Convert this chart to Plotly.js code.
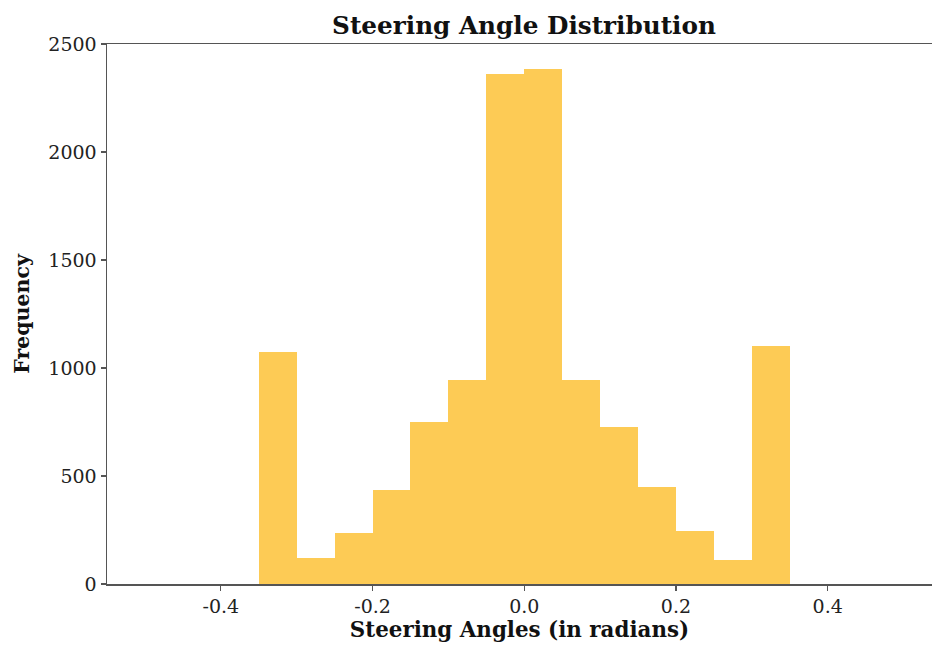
<!DOCTYPE html>
<html>
<head>
<meta charset="utf-8">
<script src="https://cdn.plot.ly/plotly-3.0.1.min.js"></script>
<style>html,body{margin:0;padding:0;background:#fff;overflow:hidden}#chart{width:932px;height:646px}</style>
</head>
<body>
<div id="chart"></div>
<script>
const binStarts = [-0.35, -0.30, -0.25, -0.20, -0.15, -0.10, -0.05, 0.00, 0.05, 0.10, 0.15, 0.20, 0.25, 0.30];
const counts = [1076, 121, 237, 437, 752, 945, 2359, 2382, 945, 729, 447, 247, 113, 1102];
const binWidth = 0.05;
const xTickVals = [-0.4, -0.2, 0.0, 0.2, 0.4];
const xTickText = ['-0.4', '-0.2', '0.0', '0.2', '0.4'];
const yTickVals = [0, 500, 1000, 1500, 2000, 2500];

const font = 'DejaVu Serif, Liberation Serif, serif';
const axisColor = '#555555';

const trace = {
  type: 'bar',
  x: binStarts,
  y: counts,
  width: binStarts.map(() => binWidth),
  offset: 0,
  marker: {color: '#FDCB55', line: {width: 0}},
  hoverinfo: 'x+y'
};

const layout = {
  width: 932,
  height: 646,
  margin: {l: 107, r: 0, t: 43.5, b: 61.5},
  paper_bgcolor: '#ffffff',
  plot_bgcolor: '#ffffff',
  bargap: 0,
  showlegend: false,
  title: {
    text: '<b>Steering Angle Distribution</b>',
    font: {family: font, size: 24.7, color: '#111'},
    x: 524 / 932, xanchor: 'center',
    y: 1 - 25.5 / 646, yanchor: 'middle'
  },
  xaxis: {
    range: [-0.55, 0.5375],
    tickvals: xTickVals,
    ticktext: xTickText,
    ticks: 'outside', ticklen: 5, tickwidth: 1.2, tickcolor: axisColor,
    showline: true, linecolor: axisColor, linewidth: 1.5,
    mirror: true,
    showgrid: false, zeroline: false,
    tickfont: {family: font, size: 19, color: '#222'},
    title: {text: '<b>Steering Angles (in radians)</b>', font: {family: font, size: 21.4, color: '#111'}, standoff: 2}
  },
  yaxis: {
    range: [0, 2500],
    tickvals: yTickVals,
    ticks: 'outside', ticklen: 5, tickwidth: 1.2, tickcolor: axisColor,
    showline: true, linecolor: axisColor, linewidth: 1.5,
    showgrid: false, zeroline: false,
    tickfont: {family: font, size: 19, color: '#222'},
    title: {text: '<b>Frequency</b>', font: {family: font, size: 20.5, color: '#111'}, standoff: 13}
  }
};

Plotly.newPlot('chart', [trace], layout, {displayModeBar: false, staticPlot: true});
</script>
</body>
</html>
